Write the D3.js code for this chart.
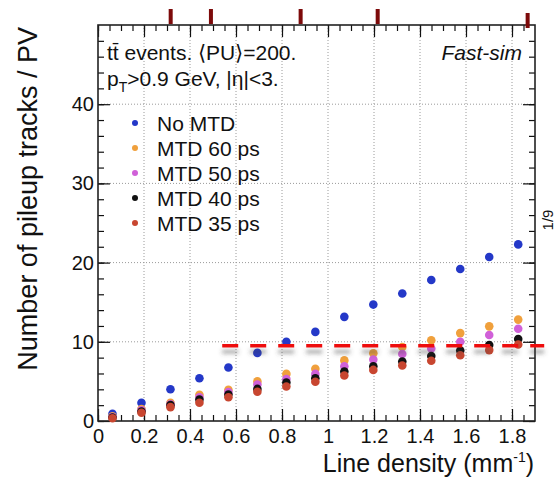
<!DOCTYPE html>
<html lang="en">
<head>
    <meta charset="UTF-8">
    <title>Number of pileup tracks / PV</title>
    <script src="https://d3js.org/d3.v7.min.js"></script>
    <style>
        body {
            margin: 0;
            background: #fff;
            font-family: "Liberation Sans", Arial, sans-serif;
        }
        svg { display: block; }
    </style>
</head>
<body>
    <div id="chart-container"></div>
    <script>
        // line density bins (mm^-1)
        const density = [0.063, 0.189, 0.315, 0.441, 0.567, 0.693, 0.819, 0.945, 1.071, 1.197, 1.323, 1.449, 1.575, 1.701, 1.827];

        const noMTD  = [0.9, 2.3, 4.0, 5.4, 6.75, 8.6, 10.0, 11.25, 13.15, 14.7, 16.1, 17.8, 19.2, 20.7, 22.3];
        const mtd60  = [0.6, 1.5, 2.3, 3.3, 3.95, 5.0, 5.95, 6.6, 7.65, 8.55, 9.35, 10.2, 11.1, 11.95, 12.8];
        const mtd50  = [0.5, 1.35, 2.1, 3.0, 3.65, 4.6, 5.3, 5.95, 6.9, 7.75, 8.45, 9.15, 10.0, 10.85, 11.65];
        const mtd40  = [0.45, 1.2, 2.0, 2.7, 3.35, 4.05, 4.85, 5.4, 6.25, 6.9, 7.5, 8.2, 8.9, 9.6, 10.35];
        const mtd35  = [0.35, 1.05, 1.75, 2.3, 3.0, 3.7, 4.35, 4.95, 5.75, 6.45, 7.0, 7.6, 8.3, 8.95, 9.65];

        const seriesNames = ["No MTD", "MTD 60 ps", "MTD 50 ps", "MTD 40 ps", "MTD 35 ps"];
        const seriesColors = ["#2438c8", "#f0a03c", "#d060d8", "#111111", "#c84630"];

        const xTicks = [0, 0.2, 0.4, 0.6, 0.8, 1.0, 1.2, 1.4, 1.6, 1.8];
        const xTickLabels = ["0", "0.2", "0.4", "0.6", "0.8", "1", "1.2", "1.4", "1.6", "1.8"];
        const yTicks = [0, 10, 20, 30, 40];
        const yTickLabels = ["0", "10", "20", "30", "40"];

        // dark red marks above the frame, and the red dashed reference level
        const topMarks = [0.316, 0.491, 0.881, 1.216, 1.868];
        const refLevel = 9.5;
        const refRange = [0.54, 1.94];

        const W = 555, H = 481;
        const margin = { top: 25, right: 20, bottom: 60, left: 98 };

        const svg = d3.select("#chart-container").append("svg")
            .attr("width", W)
            .attr("height", H);

        // user space filter region: the dashed line has a zero-height bbox
        const defs = svg.append("defs");
        defs.append("filter")
            .attr("id", "shadow")
            .attr("filterUnits", "userSpaceOnUse")
            .attr("x", 0).attr("y", 0)
            .attr("width", W).attr("height", H)
            .append("feDropShadow")
            .attr("dx", 0).attr("dy", 6)
            .attr("stdDeviation", 2.2)
            .attr("flood-color", "#444")
            .attr("flood-opacity", 0.5);

        const x = d3.scaleLinear()
            .domain([0, 1.9])
            .range([margin.left, W - margin.right]);

        const y = d3.scaleLinear()
            .domain([0, 50])
            .range([H - margin.bottom, margin.top]);

        const x0 = x.range()[0], x1 = x.range()[1];
        const y0 = y.range()[0], y1 = y.range()[1];

        // dotted grid
        svg.append("g")
            .selectAll("line")
            .data(xTicks.slice(1))
            .join("line")
            .attr("x1", d => x(d)).attr("x2", d => x(d))
            .attr("y1", y1).attr("y2", y0)
            .attr("stroke", "#9a9a9a")
            .attr("stroke-width", 1)
            .attr("stroke-dasharray", "1,2");

        svg.append("g")
            .selectAll("line")
            .data(yTicks.slice(1))
            .join("line")
            .attr("x1", x0).attr("x2", x1)
            .attr("y1", d => y(d)).attr("y2", d => y(d))
            .attr("stroke", "#9a9a9a")
            .attr("stroke-width", 1)
            .attr("stroke-dasharray", "1,2");

        // ticks, ROOT style (inside the frame, on all four sides)
        const xMinor = d3.range(0, 1.9, 0.05);
        const yMinor = d3.range(0, 50, 2);

        function styleAxis(g) {
            g.select(".domain").remove();
            g.selectAll("line").attr("stroke", "#111").attr("stroke-width", 1.2);
            g.selectAll("text")
                .attr("fill", "#111")
                .style("font-family", "'Liberation Sans', Arial, sans-serif")
                .style("font-size", "20px");
        }

        svg.append("g").attr("transform", `translate(0,${y0})`)
            .call(d3.axisBottom(x).tickValues(xMinor).tickSize(-6).tickFormat(""))
            .call(styleAxis);
        svg.append("g").attr("transform", `translate(0,${y0})`)
            .call(d3.axisBottom(x).tickValues(xTicks)
                .tickFormat((d, i) => xTickLabels[i])
                .tickSize(-12).tickPadding(8))
            .call(styleAxis);
        svg.append("g").attr("transform", `translate(0,${y1})`)
            .call(d3.axisTop(x).tickValues(xMinor).tickSize(-6).tickFormat(""))
            .call(styleAxis);
        svg.append("g").attr("transform", `translate(0,${y1})`)
            .call(d3.axisTop(x).tickValues(xTicks).tickSize(-12).tickFormat(""))
            .call(styleAxis);

        svg.append("g").attr("transform", `translate(${x0},0)`)
            .call(d3.axisLeft(y).tickValues(yMinor).tickSize(-6).tickFormat(""))
            .call(styleAxis);
        svg.append("g").attr("transform", `translate(${x0},0)`)
            .call(d3.axisLeft(y).tickValues(yTicks)
                .tickFormat((d, i) => yTickLabels[i])
                .tickSize(-12).tickPadding(4))
            .call(styleAxis);
        svg.append("g").attr("transform", `translate(${x1},0)`)
            .call(d3.axisRight(y).tickValues(yMinor).tickSize(-6).tickFormat(""))
            .call(styleAxis);
        svg.append("g").attr("transform", `translate(${x1},0)`)
            .call(d3.axisRight(y).tickValues(yTicks).tickSize(-12).tickFormat(""))
            .call(styleAxis);

        // frame
        svg.append("rect")
            .attr("x", x0).attr("y", y1)
            .attr("width", x1 - x0).attr("height", y0 - y1)
            .attr("fill", "none")
            .attr("stroke", "#222")
            .attr("stroke-width", 1.6);

        // markers
        const allSeries = [noMTD, mtd60, mtd50, mtd40, mtd35];
        allSeries.forEach((vals, si) => {
            svg.append("g")
                .selectAll("circle")
                .data(vals)
                .join("circle")
                .attr("cx", (d, i) => x(density[i]))
                .attr("cy", d => y(d))
                .attr("r", 4.3)
                .attr("fill", seriesColors[si]);
        });

        // red dashed reference line with shadow
        svg.append("line")
            .attr("x1", x(refRange[0])).attr("x2", x(refRange[1]))
            .attr("y1", y(refLevel)).attr("y2", y(refLevel))
            .attr("stroke", "#ee1111")
            .attr("stroke-width", 3.5)
            .attr("stroke-dasharray", "16,12")
            .attr("filter", "url(#shadow)");

        // dark red marks above the frame
        svg.append("g")
            .selectAll("rect")
            .data(topMarks)
            .join("rect")
            .attr("x", d => x(d) - 2)
            .attr("y", (d, i) => i === topMarks.length - 1 ? 13 : 9)
            .attr("width", 4)
            .attr("height", 15)
            .attr("fill", "#7d0a0a");

        // legend
        const legend = svg.append("g");
        seriesNames.forEach((name, i) => {
            const ly = 123 + i * 25;
            legend.append("circle")
                .attr("cx", 135).attr("cy", ly).attr("r", 3)
                .attr("fill", seriesColors[i]);
            legend.append("text")
                .attr("x", 157).attr("y", ly + 7.5)
                .attr("font-size", 21)
                .attr("fill", "#111")
                .text(name);
        });

        // annotation text
        const t1 = svg.append("text")
            .attr("x", 107).attr("y", 60)
            .attr("font-size", 21)
            .attr("fill", "#111");
        t1.append("tspan").text("tt\u0304 events. \u27e8PU\u27e9=200.");

        const t2 = svg.append("text")
            .attr("x", 107).attr("y", 86)
            .attr("font-size", 21)
            .attr("fill", "#111");
        t2.append("tspan").text("p");
        t2.append("tspan").attr("font-size", 14).attr("dy", 6).text("T");
        t2.append("tspan").attr("dy", -6).text(">0.9 GeV, |\u03b7|<3.");

        svg.append("text")
            .attr("x", 522).attr("y", 60)
            .attr("text-anchor", "end")
            .attr("font-size", 21)
            .attr("font-style", "italic")
            .attr("fill", "#111")
            .text("Fast-sim");

        // axis titles
        svg.append("text")
            .attr("transform", "translate(37,27) rotate(-90)")
            .attr("text-anchor", "end")
            .attr("font-size", 27)
            .attr("fill", "#111")
            .text("Number of pileup tracks / PV");

        const xt = svg.append("text")
            .attr("x", 534).attr("y", 472)
            .attr("text-anchor", "end")
            .attr("font-size", 25)
            .attr("fill", "#111");
        xt.append("tspan").text("Line density (mm");
        xt.append("tspan").attr("font-size", 14).attr("dy", -10).text("-1");
        xt.append("tspan").attr("dy", 10).text(")");

        // small rotated text at the right edge of the slide
        svg.append("text")
            .attr("transform", "translate(553,220) rotate(-90)")
            .attr("text-anchor", "middle")
            .attr("font-size", 15)
            .attr("fill", "#111")
            .text("1/9");
    </script>
</body>
</html>
